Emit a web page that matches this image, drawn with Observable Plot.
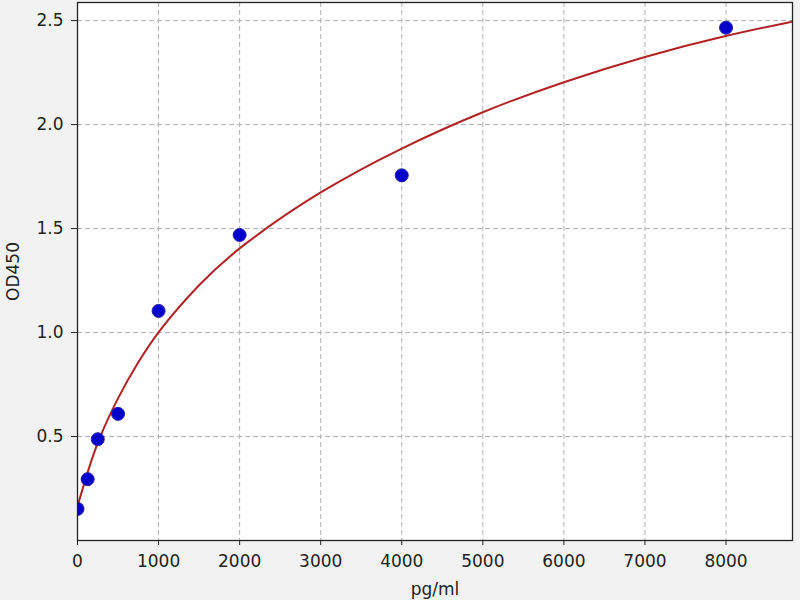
<!DOCTYPE html>
<html>
<head>
<meta charset="utf-8">
<script src="https://cdn.jsdelivr.net/npm/d3@7"></script>
<script src="https://cdn.jsdelivr.net/npm/@observablehq/plot@0.6"></script>
<style>
  body { margin: 0; background: #f2f2f2; overflow: hidden; }
</style>
</head>
<body>
<div id="chart"></div>
<script>
// standard points (concentration vs OD)
const concentration = [0, 125, 250, 500, 1000, 2000, 4000, 8000]
const od = [0.152, 0.295, 0.487, 0.609, 1.104, 1.469, 1.756, 2.466]

// fitted curve
const fitX = [0, 125, 250, 500, 750, 1000, 1500, 2000, 3000, 4000, 5000, 6000, 7000, 8000, 8820]
const fitY = [0.165, 0.33, 0.48, 0.69, 0.86, 1.01, 1.235, 1.415, 1.684, 1.89, 2.065, 2.207, 2.329, 2.429, 2.495]

const xTicks = [0, 1000, 2000, 3000, 4000, 5000, 6000, 7000, 8000]
const yTicks = [0.5, 1.0, 1.5, 2.0, 2.5]

const points = concentration.map((c, i) => ({c, od: od[i]}))
const fit = fitX.map((c, i) => ({c, od: fitY[i]}))

const gridStyle = {stroke: "#b0b0b0", strokeOpacity: 1, strokeDasharray: "5,3"}

let chart = Plot.plot({
  width: 800,
  height: 600,
  marginLeft: 77,
  marginRight: 8,
  marginTop: 2,
  marginBottom: 60,
  x: {domain: [0, 8820]},
  y: {domain: [0, 2.587]},
  marks: [
    Plot.frame({fill: "white"}),
    Plot.gridX(xTicks, gridStyle),
    Plot.gridY(yTicks, gridStyle),
    Plot.line(fit, {x: "c", y: "od", stroke: "#b22222", strokeWidth: 2, curve: "basis", clip: true}),
    Plot.dot(points, {x: "c", y: "od", r: 6.5, fill: "#0000cd", stroke: "#2a1aa8", strokeWidth: 1, clip: true}),
    Plot.frame({stroke: "#222", strokeWidth: 1.3}),
    Plot.axisX(xTicks, {
      tickSize: 5, tickPadding: 9, tickFormat: d3.format("d"),
      label: "pg/ml", labelAnchor: "center", labelArrow: "none", labelOffset: 54
    }),
    Plot.axisY(yTicks, {
      tickSize: 6, tickPadding: 8, tickFormat: d3.format(".1f"),
      label: "OD450", labelAnchor: "center", labelArrow: "none", labelOffset: 71
    })
  ],
  style: {
    fontFamily: "'DejaVu Sans', sans-serif",
    fontSize: "17px",
    background: "#f2f2f2",
    color: "#222",
    overflow: "visible"
  }
})
d3.select('#chart').append(() => chart)
</script>
</body>
</html>
